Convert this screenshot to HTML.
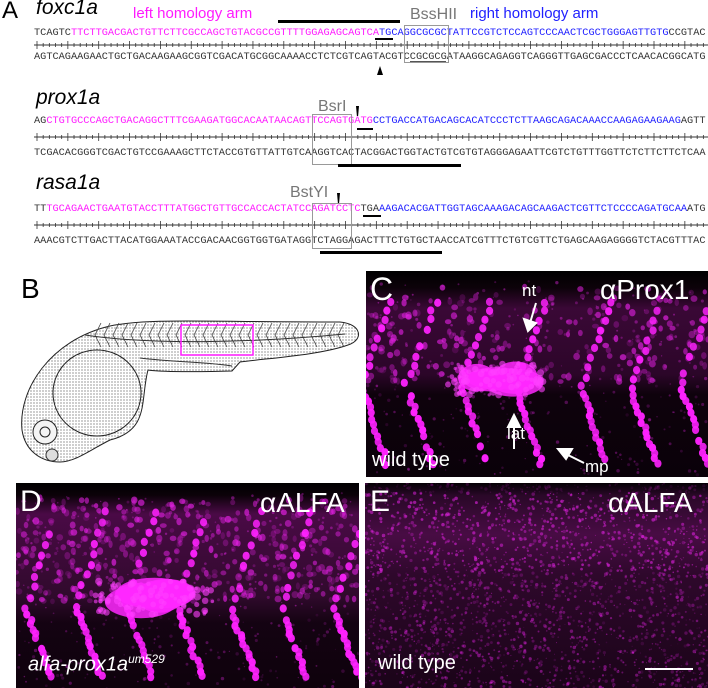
<!DOCTYPE html>
<html><head><meta charset="utf-8">
<style>
html,body{margin:0;padding:0;background:#fff;}
body{width:708px;height:688px;position:relative;overflow:hidden;font-family:"Liberation Sans",sans-serif;}
.abs{position:absolute;}
.seq{position:absolute;left:34px;font-family:"Liberation Mono",monospace;font-size:10.28px;line-height:12px;white-space:pre;color:#333;letter-spacing:0;}
.m{color:#ff1aff}.b{color:#2020ff}
.gene{position:absolute;left:36px;font-style:italic;font-size:21px;color:#000;}
.lab{position:absolute;color:#777;font-size:16px;}
.box{position:absolute;border:1px solid #999;}
.bar{position:absolute;height:3px;background:#000;}
.ul{position:absolute;height:2px;background:#000;}
.wl{position:absolute;color:#fff;font-family:"Liberation Sans",sans-serif;}
</style></head><body>
<div class="abs" style="left:2px;top:-3px;font-size:24px;">A</div>

<div class="gene" style="top:-4px;">foxc1a</div>
<div class="abs" style="left:133px;top:5px;font-size:15px;color:#ff1aff;">left homology arm</div>
<div class="abs" style="left:470px;top:5px;font-size:15px;color:#2020ff;">right homology arm</div>
<div class="lab" style="left:410px;top:6px;">BssHII</div>
<div class="bar" style="left:278px;top:20px;width:122px;"></div>
<div class="seq" style="top:27px;">TCAGTC<span class="m">TTCTTGACGACTGTTCTTCGCCAGCTGTACGCCGTTTTGGAGAGCAGTCA</span><span class="b">TGCAGGCGCGCTATTCCGTCTCCAGTCCCAACTCGCTGGGAGTTGTG</span>CCGTAC</div>
<svg class="abs" style="left:34px;top:41px" width="674" height="8"><line x1="0" y1="4" x2="674" y2="4" stroke="#333" stroke-width="1"/><g id="t1"></g></svg>
<div class="seq" style="top:51px;">AGTCAGAAGAACTGCTGACAAGAAGCGGTCGACATGCGGCAAAACCTCTCGTCAGTACGTCCGCGCGATAAGGCAGAGGTCAGGGTTGAGCGACCCTCAACACGGCATG</div>
<div class="box" style="left:404px;top:25px;width:43px;height:36px;"></div>
<div class="ul" style="left:375px;top:38px;width:18px;"></div>
<div class="ul" style="left:410px;top:61px;width:36px;height:1px;background:#555"></div>
<div class="abs" style="left:377px;top:66px;width:0;height:0;border-left:3px solid transparent;border-right:3px solid transparent;border-bottom:9px solid #000;"></div>

<div class="gene" style="top:86px;">prox1a</div>
<div class="lab" style="left:318px;top:98px;">BsrI</div>
<div class="abs" style="left:356px;top:106px;width:3px;height:10px;background:#000;clip-path:polygon(0 0,100% 0,70% 100%,30% 100%);"></div>
<div class="seq" style="top:115px;">AG<span class="m">CTGTGCCCAGCTGACAGGCTTTCGAAGATGGCACAATAACAGTTCCAGTGATG</span><span class="b">CCTGACCATGACAGCACATCCCTCTTAAGCAGACAAACCAAGAGAAGAAG</span>AGTT</div>
<svg class="abs" style="left:34px;top:133px" width="674" height="8"><line x1="0" y1="4" x2="674" y2="4" stroke="#333"/><g id="t2"></g></svg>
<div class="seq" style="top:147px;">TCGACACGGGTCGACTGTCCGAAAGCTTCTACCGTGTTATTGTCAAGGTCACTACGGACTGGTACTGTCGTGTAGGGAGAATTCGTCTGTTTGGTTCTCTTCTTCTCAA</div>
<div class="box" style="left:312px;top:114px;width:38px;height:49px;"></div>
<div class="ul" style="left:357px;top:128px;width:16px;"></div>
<div class="bar" style="left:338px;top:164px;width:123px;"></div>

<div class="gene" style="top:171px;">rasa1a</div>
<div class="lab" style="left:290px;top:184px;">BstYI</div>
<div class="abs" style="left:337px;top:193px;width:3px;height:10px;background:#000;clip-path:polygon(0 0,100% 0,70% 100%,30% 100%);"></div>
<div class="seq" style="top:203px;">TT<span class="m">TGCAGAACTGAATGTACCTTTATGGCTGTTGCCACCACTATCCAGATCCTC</span>TGA<span class="b">AAGACACGATTGGTAGCAAAGACAGCAAGACTCGTTCTCCCCAGATGCAA</span>ATG</div>
<svg class="abs" style="left:34px;top:221px" width="674" height="8"><line x1="0" y1="4" x2="674" y2="4" stroke="#333"/><g id="t3"></g></svg>
<div class="seq" style="top:235px;">AAACGTCTTGACTTACATGGAAATACCGACAACGGTGGTGATAGGTCTAGGAGACTTTCTGTGCTAACCATCGTTTCTGTCGTTCTGAGCAAGAGGGGTCTACGTTTAC</div>
<div class="box" style="left:312px;top:203px;width:38px;height:44px;"></div>
<div class="ul" style="left:363px;top:215px;width:18px;"></div>
<div class="bar" style="left:320px;top:251px;width:122px;"></div>

<div class="abs" style="left:21px;top:273px;font-size:28px;">B</div>
<svg class="abs" style="left:0;top:255px" width="362" height="225" viewBox="0 255 362 225">
<defs><pattern id="st" width="3" height="3" patternUnits="userSpaceOnUse"><rect width="3" height="3" fill="#fff"/><circle cx="1" cy="1" r="0.6" fill="#555"/></pattern></defs>
<path d="M22,430 C18,390 50,340 110,326 C150,318 200,322 340,322 C362,324 364,340 348,345 C320,355 270,358 240,362 L232,371 C200,372 160,372 148,370 C140,400 150,430 110,440 C90,450 75,462 60,462 C40,462 25,450 22,430 Z" fill="url(#st)" stroke="#222" stroke-width="1"/>
<ellipse cx="97" cy="393" rx="44" ry="43" fill="url(#st)" stroke="#222" stroke-width="1"/>
<path d="M140,358 C170,362 210,362 232,366" stroke="#333" fill="none"/>
<g stroke="#444" stroke-width="0.8" fill="none" id="seg"></g>
<path d="M85,335 C150,345 250,343 345,334" stroke="#333" fill="none"/>
<circle cx="45" cy="432" r="12" fill="#f4f4f4" stroke="#222"/>
<circle cx="45" cy="432" r="5" fill="none" stroke="#222"/>
<circle cx="52" cy="455" r="6" fill="#ddd" stroke="#333"/>
<rect x="181" y="325" width="72" height="30" fill="none" stroke="#ff1aff" stroke-width="1.5"/>
</svg>

<svg id="pc" class="abs" style="left:366px;top:271px" width="342" height="206"></svg>
<div class="wl" style="left:370px;top:271px;font-size:32px;">C</div>
<div class="wl" style="left:600px;top:274px;font-size:28px;">αProx1</div>
<div class="wl" style="left:522px;top:281px;font-size:17px;">nt</div>
<div class="wl" style="left:507px;top:424px;font-size:17px;">lat</div>
<div class="wl" style="left:585px;top:457px;font-size:17px;">mp</div>
<div class="wl" style="left:372px;top:449px;font-size:20px;">wild type</div>
<svg class="abs" style="left:366px;top:271px" width="342" height="206">
<g stroke="#fff" stroke-width="2" fill="#fff">
<line x1="170" y1="32" x2="164" y2="52"/><polygon points="158,48 162,60 170,52"/>
<line x1="148" y1="178" x2="148" y2="152"/><polygon points="142,156 148,144 154,156"/>
<line x1="218" y1="192" x2="198" y2="182"/><polygon points="200,188 192,178 206,178"/>
</g></svg>

<svg id="pd" class="abs" style="left:16px;top:483px" width="343" height="205"></svg>
<div class="wl" style="left:20px;top:485px;font-size:30px;">D</div>
<div class="wl" style="left:260px;top:487px;font-size:28px;">αALFA</div>
<div class="wl" style="left:28px;top:652px;font-size:20px;font-style:italic;">alfa-prox1a<sup style="font-size:12px;">um529</sup></div>

<svg id="pe" class="abs" style="left:365px;top:483px" width="343" height="205"></svg>
<div class="wl" style="left:370px;top:485px;font-size:30px;">E</div>
<div class="wl" style="left:608px;top:487px;font-size:28px;">αALFA</div>
<div class="wl" style="left:378px;top:652px;font-size:20px;">wild type</div>
<div class="abs" style="left:645px;top:668px;width:48px;height:2px;background:#fff;"></div>

<script>
var NS="http://www.w3.org/2000/svg";
function el(p,t,a){var e=document.createElementNS(NS,t);for(var k in a)e.setAttribute(k,a[k]);p.appendChild(e);return e;}
["t1","t2","t3"].forEach(function(id){var g=document.getElementById(id);for(var i=0;i<=109;i++){var x=i*6.17+3;var big=i%5==0;el(g,"line",{x1:x,x2:x,y1:big?0:2,y2:big?8:6,stroke:"#333","stroke-width":0.8});}});
var sg=document.getElementById("seg");for(var x=95;x<340;x+=9){el(sg,"path",{d:"M"+(x+6)+",323 L"+x+",335 L"+(x+6)+",347"});}
var s=12345;function r(){s=(s*1103515245+12345)%2147483648;return s/2147483648;}
var gid=0;
function grad(sv,stops){var d=el(sv,"defs",{});var id="g"+(gid++);var lg=el(d,"linearGradient",{id:id,x1:0,y1:0,x2:0,y2:1});stops.forEach(function(a){el(lg,"stop",{offset:a[0],"stop-color":a[1]});});return "url(#"+id+")";}
function panel(id,o){var sv=document.getElementById(id),W=343,H=206;
 el(sv,"rect",{x:0,y:0,width:W,height:H,fill:grad(sv,o.stops)});
 for(var i=0;i<o.noise;i++){var y=10+r()*(H-10);el(sv,"circle",{cx:r()*W,cy:y,r:0.6+r()*1.2,fill:"#c020c0",opacity:(y<o.vy?0.25:0.12)+r()*0.3});}
 for(var i=0;i<o.nb;i++){var y=o.top+Math.pow(r(),0.9)*o.bandH;el(sv,"ellipse",{cx:r()*W,cy:y,rx:2+r()*1.5,ry:2.3+r()*1.5,fill:"#e020e0",opacity:0.15+r()*0.55});}
 for(var k=0;k<o.chains.length;k++){var vx=o.chains[k],vy=o.vy+(r()-.5)*10;
  var pts=[];for(var t=0;t<=1;t+=0.11)pts.push([vx+30*(1-t),o.top+15+(vy-o.top-15)*t,0.8]);
  for(var t=0.08;t<=1;t+=0.07)pts.push([vx+26*t,vy+(H-12-vy)*t,0.85]);
  pts.forEach(function(p){if(r()<0.08)return;el(sv,"ellipse",{cx:p[0]+(r()-.5)*4,cy:p[1]+(r()-.5)*2,rx:3.6,ry:4.1,fill:"#ff22ff",opacity:p[2]+r()*0.15});});}
 var b=o.blob;
 for(var i=0;i<6;i++){el(sv,"ellipse",{cx:b[0]+(r()-.5)*b[2],cy:b[1]+(r()-.5)*b[3]*0.6,rx:b[2]*(0.4+r()*0.3),ry:b[3]*(0.6+r()*0.4),fill:"#ff28ff",opacity:0.85});}
 for(var i=0;i<90;i++){el(sv,"circle",{cx:b[0]+(r()-.5)*2.1*b[2],cy:b[1]+(r()-.5)*2*b[3],r:1.5+r()*2.2,fill:"#ff40ff",opacity:0.6});}
}
panel("pc",{stops:[["0","#000"],["0.08","#0c0209"],["0.18","#3a0836"],["0.5","#2c0629"],["0.6","#0e020c"],["1","#0a0109"]],top:16,bandH:95,noise:350,nb:240,chains:[-5,40,95,150,215,265,315],vy:115,blob:[130,108,46,16]});
panel("pd",{stops:[["0","#000"],["0.06","#0c0209"],["0.15","#4a0a46"],["0.55","#300a2c"],["0.68","#140312"],["1","#0e020c"]],top:14,bandH:105,noise:400,nb:400,chains:[10,60,110,160,215,265,318],vy:125,blob:[138,115,56,17]});
(function(){var sv=document.getElementById("pe"),W=343,H=206;
 el(sv,"rect",{x:0,y:0,width:W,height:H,fill:grad(sv,[["0","#050005"],["0.06","#2a0828"],["0.25","#480c44"],["0.45","#2e082b"],["1","#1a0418"]])});
 for(var i=0;i<2600;i++){var y=r()*H;var op=(y<90?0.3:0.12)+r()*0.4;if(y<10)op*=0.3;el(sv,"circle",{cx:r()*W,cy:y,r:0.5+r()*1.3,fill:"#d020d0",opacity:op});}
})();
</script>
</body></html>
